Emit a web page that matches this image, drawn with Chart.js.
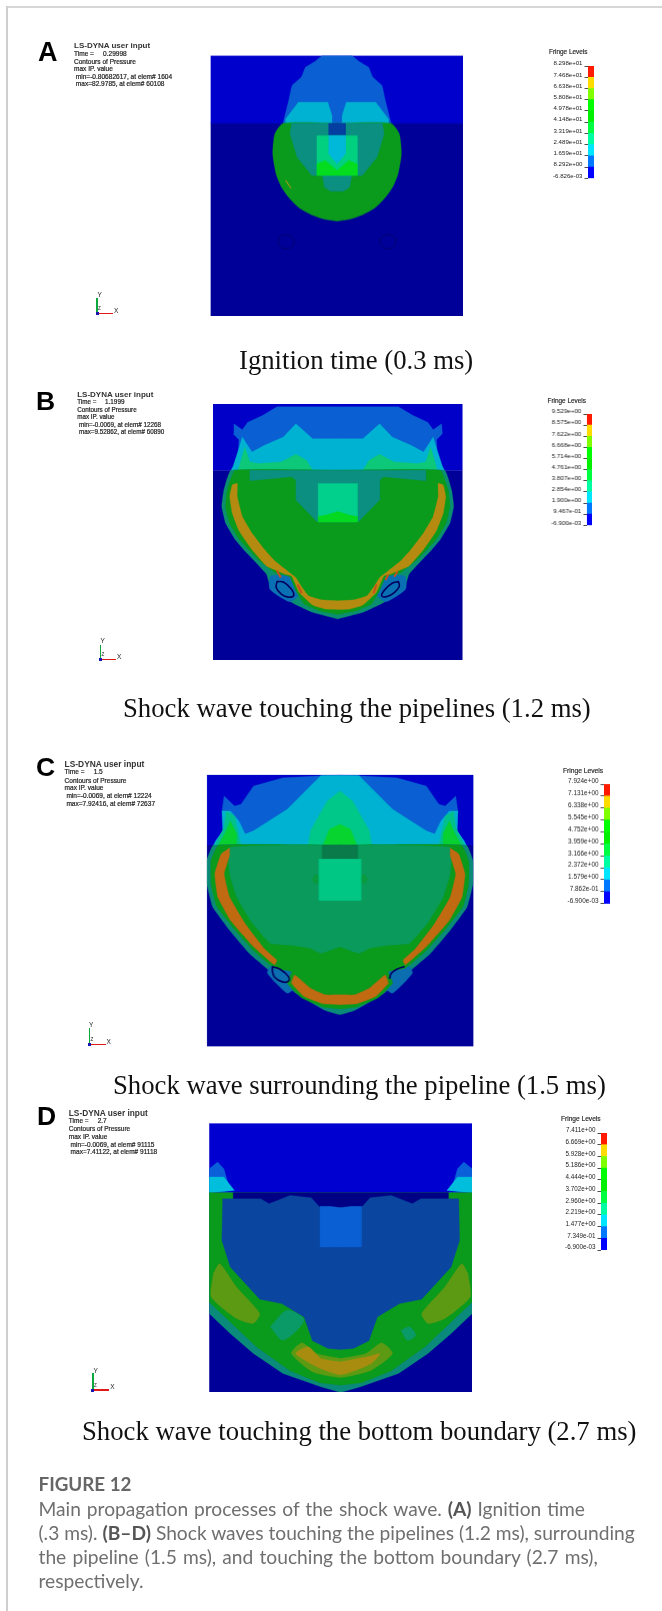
<!DOCTYPE html>
<html><head><meta charset="utf-8">
<script src="https://cdn.jsdelivr.net/npm/chart.js@4"></script>
<style>
html,body{margin:0;padding:0;background:#fff}
#page{position:relative;width:662px;height:1611px;overflow:hidden;filter:blur(.65px)}
#frameT{position:absolute;left:6px;top:6px;right:0;height:2px;background:#d6d6d6}
#frameL{position:absolute;left:6px;top:6px;bottom:0;width:2px;background:#cfcfcf}
canvas{display:block}
.box{position:absolute}
.t{position:absolute;white-space:pre;font-family:"Liberation Sans",Arial,sans-serif;color:#222;line-height:1;transform:translateY(-50%)}
.cap{font-family:"Liberation Serif",serif;color:#111;font-size:26.7px}
.ln{position:absolute}
#fig{position:absolute;left:38.5px;top:1474px;width:622px;font-family:Lato,sans-serif;color:#6f6f6f;font-size:19.2px;line-height:24px}
#fig .h{font-weight:700;font-size:18.8px;color:#666;display:block;line-height:20px;margin-bottom:3px}
#fig b{color:#555}
#fig .w1{word-spacing:1px}
#fig .w3{word-spacing:1.3px}
</style></head><body><div id="page"><div id="frameT"></div><div id="frameL"></div></div>
<script>
/* ---------- fringe level tick values ---------- */
const levelsA=[82.98,74.68,66.38,58.08,49.78,41.48,33.19,24.89,16.59,8.292,-0.006826];
const levelsB=[9.529,8.575,7.622,6.668,5.714,4.761,3.807,2.854,1.900,0.9467,-0.0069];
const levelsC=[7.924,7.131,6.338,5.545,4.752,3.959,3.166,2.372,1.579,0.7862,-0.0069];
const levelsD=[7.411,6.669,5.928,5.186,4.444,3.702,2.960,2.219,1.477,0.7349,-0.0069];

/* ---------- annotation text ---------- */
const notesA=["Time =     0.29998","Contours of Pressure","max IP. value"," min=-0.80682617, at elem# 1604"," max=82.9785, at elem# 60108"];
const notesB=["Time =     1.1999","Contours of Pressure","max IP. value"," min=-0.0069, at elem# 12268"," max=9.52862, at elem# 60890"];
const notesC=["Time =     1.5","Contours of Pressure","max IP. value"," min=-0.0069, at elem# 12224"," max=7.92416, at elem# 72637"];
const notesD=["Time =     2.7","Contours of Pressure","max IP. value"," min=-0.0069, at elem# 91115"," max=7.41122, at elem# 91118"];
const captions=["Ignition time (0.3 ms)","Shock wave touching the pipelines (1.2 ms)","Shock wave surrounding the pipeline (1.5 ms)","Shock wave touching the bottom boundary (2.7 ms)"];

/* ---------- contour outlines, [offset from mesh axis, depth from mesh top reference] ---------- */
/* A */
const aBlue=[[0,165],[35,165],[52,182],[75,200],[85,230],[107,255],[115,300],[125,350],[128,368],[0,368]];
const aCyan=[[12,345],[22,305],[92,305],[122,355],[122,368],[12,368]];
const aGreen=[[0,368],[128,368],[148,400],[153,460],[145,520],[132,560],[112,595],[90,622],[62,642],[30,656],[0,662]];
const aTeal=[[0,368],[108,368],[112,400],[95,470],[60,525],[35,525],[30,560],[15,572],[0,572]];
const aStem=[[0,368],[20,368],[20,405],[0,405]];
const aBox=[[0,405],[48,405],[48,525],[0,525]];
const aBoxCore=[[0,405],[20,405],[20,460],[0,490]];
const aBoxV=[[0,510],[28,480],[48,490],[48,525],[0,525]];
const aPipe=[[-121,702],[-107,708],[-102,722],[-107,738],[-121,745],[-135,738],[-140,722],[-135,708]];
const aMark=[[-122,540],[-110,562]];
/* B */
const bBlue=[[0,78],[145,78],[180,105],[215,125],[228,148],[248,130],[250,160],[236,178],[240,270],[0,270]];
const bCyan=[[0,175],[60,175],[100,130],[130,170],[175,195],[205,215],[228,170],[235,200],[250,258],[255,270],[0,270]];
const bMint=[[60,270],[75,240],[100,222],[135,245],[190,250],[210,245],[222,200],[238,270]];
const bRim=[[0,270],[255,270],[272,330],[277,380],[268,430],[245,480],[225,510],[195,550],[170,585],[160,625],[110,670],[60,700],[0,720]];
const bPipeGlow=[[105,590],[160,590],[162,630],[115,668],[95,650]];
const bGreen=[[0,270],[245,270],[264,330],[268,380],[259,430],[236,478],[216,506],[186,545],[150,580],[115,592],[100,635],[80,675],[45,695],[0,706]];
const bBand=[[0,665],[40,662],[70,650],[85,625],[100,595],[120,575],[150,545],[175,510],[205,460],[228,410],[240,350],[240,310],[252,315],[258,350],[252,400],[235,455],[205,510],[170,560],[125,585],[110,590],[92,640],[60,678],[30,690],[0,692]];
const bTeal=[[0,270],[210,270],[210,302],[110,290],[100,300],[100,360],[50,425],[0,425]];
const bBox=[[0,310],[47,310],[47,427],[0,427]];
const bBoxV=[[0,395],[25,405],[47,410],[47,427],[0,427]];
const bPipeL=[[-145,607],[-130,608],[-112,628],[-105,648],[-118,654],[-135,645],[-147,625]];
const bPipeR=[[145,607],[130,612],[112,632],[105,650],[118,652],[135,640],[147,622]];
const bHot1=[[-145,575],[-137,592]];const bHot2=[[-95,618],[-87,640]];const bHot3=[[92,618],[86,640]];const bHot4=[[120,588],[115,600]];const bHot5=[[142,578],[136,590]];
/* C */
const cBlue=[[0,101],[135,110],[205,135],[235,190],[250,195],[275,165],[280,210],[270,313],[0,313]];
const cCyan=[[0,103],[45,103],[125,205],[205,270],[225,280],[240,240],[260,210],[280,210],[278,270],[295,300],[300,313],[0,313]];
const cMint=[[0,150],[30,180],[70,270],[75,313],[0,313]];
const cApex=[[0,250],[25,265],[40,313],[0,313]];
const cSideMint=[[235,313],[250,225],[270,210],[275,260],[296,313]];
const cSideGreen=[[245,313],[245,280],[260,240],[272,275],[288,313]];
const cRim=[[0,313],[300,313],[316,360],[316,430],[302,500],[262,570],[215,640],[160,700],[105,760],[35,812],[0,825]];
const cPipeGlow=[[115,690],[165,680],[172,700],[125,760],[105,740]];
const cGreen=[[0,313],[288,313],[306,360],[306,430],[293,497],[252,565],[205,632],[155,685],[115,695],[125,730],[90,775],[40,802],[0,808]];
const cMain=[[0,313],[262,320],[262,400],[245,470],[210,545],[165,610],[120,615],[70,625],[45,640],[0,620]];
const cBandSide=[[262,322],[282,340],[297,400],[290,470],[260,540],[205,620],[155,675],[150,660],[180,625],[225,550],[262,470],[275,400],[262,345]];
const cBandLow=[[0,765],[35,765],[70,745],[100,712],[108,705],[115,730],[85,770],[40,792],[0,795]];
const cCap=[[0,313],[42,313],[42,355],[0,355]];
const cBox=[[0,355],[50,355],[50,480],[0,480]];
const cTab=[[50,405],[60,402],[66,417],[60,430],[50,430]];
const cPipeL=[[-160,680],[-142,688],[-122,710],[-122,724],[-137,726],[-155,712],[-160,695]];
const cPipeR=[[152,680],[135,688],[122,700],[118,715]];
/* D */
const dBlue=[[312,205],[292,185],[277,205],[262,270],[312,277]];
const dCyan=[[312,230],[277,230],[252,270],[312,277]];
const dRim=[[0,277],[312,277],[312,640],[262,700],[207,760],[137,820],[47,860],[0,877]];
const dGreen=[[0,277],[312,277],[312,605],[200,740],[120,812],[50,848],[0,855]];
const dStrip=[[0,276],[255,276],[255,297],[190,297],[170,312],[120,288],[70,294],[50,322],[0,326]];
const dInner=[[0,322],[50,320],[70,292],[120,285],[170,310],[190,295],[280,295],[282,420],[262,500],[192,597],[140,610],[87,650],[67,722],[30,745],[0,748]];
const dOliveSide=[[302,520],[287,490],[247,560],[192,640],[207,670],[247,655],[307,590]];
const dOliveLow=[[0,775],[60,760],[97,728],[123,760],[73,810],[0,832]];
const dOliveLowL=[[0,775],[-57,760],[-92,728],[-117,760],[-67,815],[0,832]];
const dCore=[[0,785],[63,770],[93,760],[73,790],[0,824],[-57,800],[-107,760],[-77,740],[-47,775]];
const dPatchL=[[-167,680],[-127,630],[-87,660],[-137,720]];
const dPatchR=[[143,690],[163,680],[178,705],[158,720]];
const dBox=[[0,322],[25,318],[49,318],[49,440],[0,440]];

/* ---------- styling and placement (separate from the values) ---------- */
const C={blue:'#0a60d2',cyan:'#00b2d2',teal:'#0a8f80',orange:'#b48a10',hot:'#c8501a',dnavy:'#000060'};
const closed=a=>a.concat([a[0]]).map(([x,y])=>({x,y}));
const mirrorHalf=h=>{const r=h.slice().reverse().map(([x,y])=>[-x,y]);return closed(h.concat(r));};
const flip=a=>a.map(([x,y])=>[-x,y]);
const fillL=(pts,color,tension=0)=>({pts,color,tension,fill:true});
const lineL=(a,color,w,tension=0,close=false)=>({pts:close?closed(a):a.map(([x,y])=>({x,y})),color,tension,fill:false,w});
const rectBand=(x0,x1,y0,y1)=>closed([[x0,y0],[x1,y0],[x1,y1],[x0,y1]]);
const twin=(a,color,t=0)=>[fillL(closed(a),color,t),fillL(closed(flip(a)),color,t)];

const panels=[
{key:'A',left:209.8,top:55,w:253.7,h:260.7,dom:[-301,300,165,947],split:368,topC:'#0000cc',lowC:'#000099',
 layers:[
  fillL(mirrorHalf(aBlue),C.blue,.1),...twin(aCyan,C.cyan),
  fillL(mirrorHalf(aGreen),'#0a9a1c',.2),fillL(mirrorHalf(aTeal),C.teal),fillL(mirrorHalf(aStem),'#043ea0'),
  fillL(mirrorHalf(aBox),'#00d080'),fillL(mirrorHalf(aBoxCore),'#00b8d8'),fillL(mirrorHalf(aBoxV),'#04dc20'),
  lineL(aPipe,'#00006e',1,.4,true),lineL(flip(aPipe),'#00006e',1,.4,true),lineL(aMark,'#c89a10',1)]},
{key:'B',left:211.5,top:403.3,w:251.5,h:258,dom:[-298,298,70,844],split:270,topC:'#0000c8',lowC:'#000099',
 layers:[
  fillL(mirrorHalf(bBlue),C.blue),fillL(mirrorHalf(bCyan),C.cyan),...twin(bMint,'#0cc878'),
  fillL(mirrorHalf(bRim),'#0a8f70',.1),...twin(bPipeGlow,'#0a70b4',.2),fillL(mirrorHalf(bGreen),'#0a9a1c',.1),
  fillL(mirrorHalf(bBand),C.orange,.1),fillL(mirrorHalf(bTeal),C.teal),fillL(mirrorHalf(bBox),'#00d08c'),fillL(mirrorHalf(bBoxV),'#04d820'),
  lineL(bHot1,C.hot,2),lineL(bHot2,C.hot,2),lineL(bHot3,C.hot,2),lineL(bHot4,C.hot,2),lineL(bHot5,C.hot,2),
  lineL(bPipeL,C.dnavy,1.6,.4,true),lineL(bPipeR,C.dnavy,1.6,.4,true)]},
{key:'C',left:206.4,top:773.7,w:267.2,h:273.3,dom:[-316,317,101,921],split:313,topC:'#0000c8',lowC:'#000099',
 layers:[
  fillL(mirrorHalf(cBlue),C.blue),fillL(mirrorHalf(cCyan),C.cyan),fillL(mirrorHalf(cMint),'#00c888'),fillL(mirrorHalf(cApex),'#08d430'),
  ...twin(cSideMint,'#00c08c'),...twin(cSideGreen,'#08d030'),
  fillL(mirrorHalf(cRim),'#0a8a78',.1),...twin(cPipeGlow,'#0a6eb0',.2),fillL(mirrorHalf(cGreen),'#0a9a1c',.1),
  fillL(mirrorHalf(cMain),'#0a9a5c',.1),...twin(cBandSide,'#c06a12',.1),fillL(mirrorHalf(cBandLow),'#c06a12',.1),
  fillL(mirrorHalf(cCap),'#0a7a4a'),...twin(cTab,'#0a9a40'),fillL(mirrorHalf(cBox),'#00c884'),
  lineL(cPipeL,C.dnavy,1.6,.4,true),lineL(cPipeR,C.dnavy,1.6,.4)]},
{key:'D',left:209,top:1122.7,w:263.4,h:269.6,dom:[-312,312,68,877],split:277,topC:'#0000d0',lowC:'#000099',
 layers:[
  ...twin(dBlue,'#0a60d8'),...twin(dCyan,'#00bedc'),
  fillL(mirrorHalf(dRim),'#0a8a7a'),fillL(mirrorHalf(dGreen),'#0a9a1c'),
  ...twin(dOliveSide,'#5c9a14',.2),
  fillL(closed(dOliveLow.concat(dOliveLowL.slice().reverse().slice(1,-1))),'#5c9a14',.2),
  fillL(closed(dCore),'#a88c10',.2),
  fillL(closed(dPatchL),'#0a9a68',.3),fillL(closed(dPatchR),'#0a9a68',.3),
  fillL(mirrorHalf(dStrip),'#000084'),fillL(mirrorHalf(dInner),'#0a46a0'),fillL(mirrorHalf(dBox),'#0a60d2')]}
];

const page=document.getElementById('page');
function mk(tag,cls,css,txt){const e=document.createElement(tag);if(cls)e.className=cls;Object.assign(e.style,css);if(txt!=null)e.textContent=txt;page.appendChild(e);return e;}

panels.forEach(p=>{
 const box=mk('div','box',{left:p.left+'px',top:p.top+'px',width:p.w+'px',height:p.h+'px'});
 const cv=document.createElement('canvas');box.appendChild(cv);
 const [x0,x1,y0,y1]=p.dom;
 const bg=[fillL(rectBand(x0,x1,p.split,y1),p.lowC),fillL(rectBand(x0,x1,y0,p.split),p.topC)];
 const all=bg.concat(p.layers);
 const ds=all.map((l,i)=>({label:p.key+i,data:l.pts,showLine:true,tension:l.tension,
   fill:l.fill?'shape':false,backgroundColor:l.color,borderColor:l.color,borderWidth:l.fill?0.3:l.w,
   pointRadius:0,pointHoverRadius:0,borderCapStyle:'round',clip:true})).reverse();
 new Chart(cv,{type:'scatter',data:{datasets:ds},options:{responsive:true,maintainAspectRatio:false,animation:false,
   layout:{padding:0},events:[],plugins:{legend:{display:false},tooltip:{enabled:false}},
   scales:{x:{type:'linear',display:false,min:x0,max:x1},y:{type:'linear',display:false,reverse:true,min:y0,max:y1}}}});
});

/* ---------- fringe colour bars ---------- */
const fringeColors=['#0000ff','#0078ff','#00e6ff','#00ffa0','#00ff40','#00f000','#00ff00','#80ff00','#ffdc00','#ff7a00','#ff1a00'];
const fmt=v=>{let [m,e]=v.toExponential(3).split('e');const s=e[0];e=e.slice(1).padStart(2,'0');return m+'e'+s+e;};
const bars=[
 {lv:levelsA,barL:588,barR:594,top:65.7,bot:178,font:6.1,fl:[549,52],flf:6.4},
 {lv:levelsB,barL:586.3,barR:591.8,top:414,bot:525.3,font:6.1,fl:[547.5,400.7],flf:6.4},
 {lv:levelsC,barL:604,barR:610,top:784.3,bot:903,font:6.4,fl:[563,770.7],flf:6.7},
 {lv:levelsD,barL:601,barR:607,top:1133.3,bot:1250.3,font:6.3,fl:[561,1119.3],flf:6.6}];
bars.forEach(b=>{
 const axisW=46,padV=8;
 const box=mk('div','box',{left:(b.barL-axisW)+'px',top:(b.top-padV)+'px',width:(axisW+b.barR-b.barL)+'px',height:(b.bot-b.top+2*padV)+'px'});
 const cv=document.createElement('canvas');box.appendChild(cv);
 const asc=b.lv.slice().reverse();
 const ds=[];
 for(let i=0;i<asc.length-1;i++)ds.push({data:[[asc[i],asc[i+1]]],backgroundColor:i==9?fringeColors[10]:fringeColors[i],borderWidth:0,barPercentage:1,categoryPercentage:1,grouped:false});
 new Chart(cv,{type:'bar',data:{labels:['level'],datasets:ds},options:{responsive:true,maintainAspectRatio:false,animation:false,events:[],
   layout:{padding:{top:padV,bottom:padV,left:0,right:0}},plugins:{legend:{display:false},tooltip:{enabled:false}},
   scales:{x:{display:false},
    y:{type:'linear',min:asc[0],max:asc[asc.length-1],position:'left',
       afterFit:s=>{s.width=axisW;},
       afterBuildTicks:s=>{s.ticks=asc.map(v=>({value:v}));},
       border:{display:false},
       grid:{display:true,drawOnChartArea:false,drawTicks:true,tickLength:3.5,color:'#222',lineWidth:.8},
       ticks:{autoSkip:false,padding:2,labelOffset:-2.4,font:{family:'"Liberation Sans",Arial,sans-serif',size:b.font},color:'#222',callback:v=>fmt(v)}}}}});
 mk('div','t',{left:b.fl[0]+'px',top:b.fl[1]+'px',fontSize:b.flf+'px',webkitTextStroke:'.15px #222'},'Fringe Levels');
});

/* ---------- annotation text blocks ---------- */
const blocks=[
 {letter:'A',lx:38,ly:51.5,lf:27,x:74,size:[8,6.55],title:46,ys:[54,61.7,69,76.7,84],notes:notesA,cap:[239,360]},
 {letter:'B',lx:36,ly:401,lf:26.5,x:77.2,size:[8,6.3],title:394.7,ys:[402.3,410,417.3,424.7,432.3],notes:notesB,cap:[123,707.7]},
 {letter:'C',lx:36,ly:767,lf:26.5,x:64.6,size:[8.4,6.55],title:764.3,ys:[772.3,780.7,788.3,796.3,804.3],notes:notesC,cap:[113,1085]},
 {letter:'D',lx:37,ly:1116,lf:26.5,x:68.8,size:[8.3,6.5],title:1113.3,ys:[1121,1129.3,1137,1144.7,1152.3],notes:notesD,cap:[82,1431]}];
blocks.forEach((b,i)=>{
 mk('div','t',{left:b.lx+'px',top:b.ly+'px',fontSize:b.lf+'px',fontWeight:'700',color:'#000'},b.letter);
 mk('div','t',{left:b.x+'px',top:b.title+'px',fontSize:b.size[0]+'px',fontWeight:'700',color:'#333'},'LS-DYNA user input');
 b.notes.forEach((n,j)=>mk('div','t',{left:b.x+'px',top:b.ys[j]+'px',fontSize:b.size[1]+'px',color:'#222',webkitTextStroke:'.2px #222'},n));
 mk('div','t cap',{left:b.cap[0]+'px',top:b.cap[1]+'px'},captions[i]);
});

/* ---------- coordinate triads ---------- */
const triads=[[97,313.3,298,113,[99.6,295],[116,310.7]],[100.5,659.3,645,116,[102.6,640.7],[119,656.7]],[89.5,1044.3,1028.3,105.5,[91,1025.3],[108.5,1042]],[92.9,1390,1373.3,109,[95.4,1370.7],[112.3,1387.3]]];
triads.forEach(([ox,oy,yt,xe,ly,lx])=>{
 mk('div','ln',{left:(ox-.7)+'px',top:yt+'px',width:'1.6px',height:(oy-yt)+'px',background:'#0ca83c'});
 mk('div','ln',{left:ox+'px',top:(oy-.7)+'px',width:(xe-ox)+'px',height:'1.5px',background:'#e01818'});
 mk('div','ln',{left:(ox-1.5)+'px',top:(oy-1.5)+'px',width:'3px',height:'3px',background:'#1818b0'});
 mk('div','t',{left:(ly[0]-2)+'px',top:ly[1]+'px',fontSize:'6.5px'},'Y');
 mk('div','t',{left:(lx[0]-2)+'px',top:lx[1]+'px',fontSize:'6.5px'},'X');
 mk('div','t',{left:(ox+1)+'px',top:(oy-4)+'px',fontSize:'4.5px'},'Z');
});

/* ---------- figure caption ---------- */
const fig=mk('div',null,{});fig.id='fig';
fig.innerHTML='<span class="h">FIGURE 12</span><span class="w1">Main propagation processes of the shock wave. <b>(A)</b> Ignition time</span><br>(.3 ms). <b>(B–D)</b> Shock waves touching the pipelines (1.2 ms), surrounding<br><span class="w3">the pipeline (1.5 ms), and touching the bottom boundary (2.7 ms),</span><br>respectively.';
</script></body></html>
